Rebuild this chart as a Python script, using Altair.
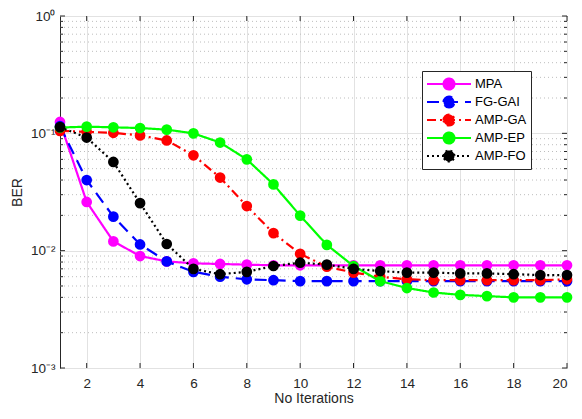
import altair as alt
import pandas as pd

# ---------------- data ----------------
iterations = list(range(1, 21))
series_names = ["MPA", "FG-GAI", "AMP-GA", "AMP-EP", "AMP-FO"]

mpa = [0.125, 0.026, 0.012, 0.009, 0.0081, 0.0078, 0.0077, 0.0076, 0.0075, 0.0075,
       0.0075, 0.0075, 0.0075, 0.0075, 0.0075, 0.0075, 0.0075, 0.0075, 0.0075, 0.0075]
fg_gai = [0.115, 0.040, 0.0195, 0.0113, 0.0081, 0.0066, 0.0060, 0.0057, 0.0056, 0.0055,
          0.0055, 0.0055, 0.0055, 0.0055, 0.0055, 0.0055, 0.0055, 0.0055, 0.0055, 0.0055]
amp_ga = [0.105, 0.103, 0.101, 0.096, 0.087, 0.065, 0.042, 0.024, 0.0141, 0.0094,
          0.0073, 0.0065, 0.0060, 0.0057, 0.0056, 0.0056, 0.0056, 0.0056, 0.0056, 0.0057]
amp_ep = [0.112, 0.114, 0.1125, 0.111, 0.1075, 0.100, 0.0835, 0.060, 0.0367, 0.0199,
          0.0112, 0.0074, 0.0055, 0.0048, 0.0044, 0.0042, 0.0041, 0.0040, 0.0040, 0.0040]
amp_fo = [0.113, 0.092, 0.057, 0.0254, 0.0114, 0.0070, 0.0063, 0.0066, 0.0074, 0.0079,
          0.0076, 0.0070, 0.0067, 0.0065, 0.0065, 0.0064, 0.0064, 0.0063, 0.0062, 0.0062]

series_values = [mpa, fg_gai, amp_ga, amp_ep, amp_fo]
series_colors = ["#ff00ff", "#0000ff", "#ff0000", "#00ff00", "#000000"]
series_dashes = [[1, 0], [12, 7], [9, 4, 2, 4], [1, 0], [2, 3]]

x_ticks = [2, 4, 6, 8, 10, 12, 14, 16, 18, 20]
y_major = [0.001, 0.01, 0.1, 1.0]
y_labels = ["10⁻³", "10⁻²", "10⁻¹", "10⁰"]
y_minor = [0.002, 0.003, 0.004, 0.005, 0.006, 0.007, 0.008, 0.009,
           0.02, 0.03, 0.04, 0.05, 0.06, 0.07, 0.08, 0.09,
           0.2, 0.3, 0.4, 0.5, 0.6, 0.7, 0.8, 0.9]

rows = []
for name, vals in zip(series_names, series_values):
    for it, v in zip(iterations, vals):
        rows.append({"series": name, "iter": it, "ber": v})
df = pd.DataFrame(rows)

W, H = 507, 352
FONT = "Liberation Sans"
AX = "#262626"

label_expr = " : ".join(
    f"datum.value == {v} ? '{l}'" for v, l in zip(y_major, y_labels)
) + " : ''"

xscale = alt.Scale(domain=[1, 20], nice=False, zero=False)
yscale = alt.Scale(type="log", domain=[0.001, 1], nice=False)

xaxis = alt.Axis(values=x_ticks, grid=True, gridColor="#e2e2e2", gridWidth=1,
                 labelPadding=8, titlePadding=2, format="d")
yaxis = alt.Axis(values=y_major, grid=True, gridColor="#e2e2e2", gridWidth=1,
                 labelExpr=label_expr, labelPadding=5, titlePadding=6)

xenc = alt.X("iter:Q", scale=xscale, axis=xaxis, title="No Iterations")
yenc = alt.Y("ber:Q", scale=yscale, axis=yaxis, title="BER")

legend_path = "M-1,0L1,0M-0.25,0A0.25,0.25,0,1,1,0.25,0A0.25,0.25,0,1,1,-0.25,0Z"
legend = alt.Legend(
    title=None, orient="none", legendX=362, legendY=55,
    symbolType=legend_path, symbolSize=1936, symbolStrokeWidth=2,
    clipHeight=18, rowPadding=0, labelOffset=3, padding=4,
    labelFont=FONT, labelFontSize=13, labelColor="#000000",
    strokeColor=AX, fillColor="#ffffff", symbolOpacity=1,
)
color = alt.Color("series:N", scale=alt.Scale(domain=series_names, range=series_colors),
                  legend=legend)
dash = alt.StrokeDash("series:N", scale=alt.Scale(domain=series_names, range=series_dashes),
                      legend=legend)

minor_df = pd.DataFrame({"ber": y_minor})
major_df = pd.DataFrame({"ber": y_major})
xt_df = pd.DataFrame({"iter": x_ticks})

layers = []
# minor grid (dotted)
layers.append(alt.Chart(minor_df).mark_rule(color="#bdbdbd", strokeDash=[1, 3], strokeWidth=1)
              .encode(y=yenc, x=alt.value(0), x2=alt.value(W)))
# inward ticks
layers.append(alt.Chart(minor_df).mark_rule(color=AX, strokeWidth=1)
              .encode(y=yenc, x=alt.value(0), x2=alt.value(3)))
layers.append(alt.Chart(minor_df).mark_rule(color=AX, strokeWidth=1)
              .encode(y=yenc, x=alt.value(W), x2=alt.value(W - 3)))
layers.append(alt.Chart(major_df).mark_rule(color=AX, strokeWidth=1)
              .encode(y=yenc, x=alt.value(0), x2=alt.value(5)))
layers.append(alt.Chart(major_df).mark_rule(color=AX, strokeWidth=1)
              .encode(y=yenc, x=alt.value(W), x2=alt.value(W - 5)))
layers.append(alt.Chart(xt_df).mark_rule(color=AX, strokeWidth=1)
              .encode(x=xenc, y=alt.value(H), y2=alt.value(H - 5)))
layers.append(alt.Chart(xt_df).mark_rule(color=AX, strokeWidth=1)
              .encode(x=xenc, y=alt.value(0), y2=alt.value(5)))

for name in series_names:
    base = alt.Chart(df).transform_filter(alt.datum.series == name)
    layers.append(base.mark_line(strokeWidth=2.2).encode(x=xenc, y=yenc, color=color, strokeDash=dash))
    layers.append(base.mark_point(filled=True, size=115, opacity=1, strokeWidth=0)
                  .encode(x=xenc, y=yenc, color=color))

chart = alt.layer(*layers).properties(
    width=W, height=H,
    autosize=alt.AutoSizeParams(type="none"),
    padding={"left": 52, "top": 8, "right": 7, "bottom": 38},
).configure_view(stroke=AX, strokeWidth=1).configure_axis(
    domain=False, ticks=False,
    labelFont=FONT, labelFontSize=13.5, labelColor=AX,
    titleFont=FONT, titleFontSize=14, titleFontWeight="normal", titleColor=AX,
)

chart.save("out.html", embed_options={"renderer": "svg", "actions": False})
